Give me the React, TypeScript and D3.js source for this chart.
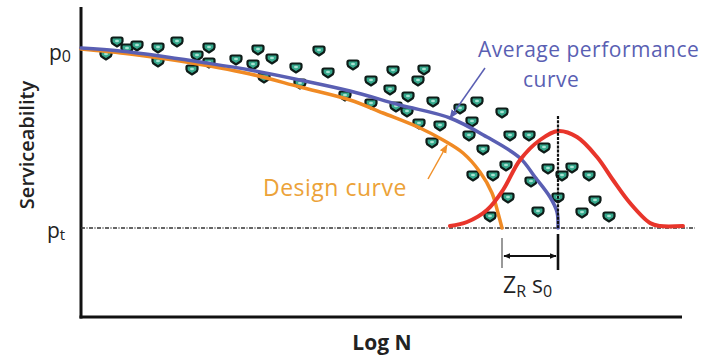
import React from "react";
import * as d3 from "d3";

// Data in chart units: x = Log N position (0..601), y = serviceability (0..310)
const P0 = 267;
const PT = 89;

const markerX = [25,36,46,56,77,77,96,111,116,128,128,155,172,177,191,183,215,219,238,247,264,272,290,290,309,312,315,326,327,337,343,352,379,396,421,391,338,359,388,351,429,448,402,463,425,467,481,491,508,392,412,450,427,477,514,457,409,501,528];
const markerY = [262,275,268,271,269,255,275,247,261,269,254,257,252,267,258,239,249,233,266,244,221,252,236,213,227,246,210,205,220,236,247,215,208,215,204,195,193,191,181,174,181,181,167,169,151,148,141,149,141,141,141,135,119,119,116,105,100,104,100];

const avgX = [0,39,79,119,169,219,269,319,369,406,439,454,469,476,477];
const avgY = [269,266,261,255,247,237,226,212,199,180,159,140,120,105,89];

const designX = [0,49,99,169,219,269,302,339,362,382,399,411,417,421];
const designY = [268,263,256,243,230,217,204,189,177,164,145,124,104,89];

const distX = [369,386,406,422,439,459,477,496,516,532,549,569,579,602];
const distY = [91,95,107,127,157,177,186,180,160,137,114,94,91,91];

const MEAN_X = 477;
const DESIGN_END_X = 421;

const W = 713;
const H = 355;

const x = d3.scaleLinear().domain([0, 601]).range([81, 682]);
const y = d3.scaleLinear().domain([0, 310]).range([317, 7]);

const FONT = "'Open Sans', 'Liberation Sans', Arial, sans-serif";

const markerPath =
  "M-5.5,-3 Q-5.5,-4.5 -4,-4.5 L4,-4.5 Q5.5,-4.5 5.5,-3 L5.5,-0.5 Q5.5,1 3,2.5 L0,4.5 L-3,2.5 Q-5.5,1 -5.5,-0.5 Z";

function pts(xs: number[], ys: number[]): [number, number][] {
  return xs.map((v, i) => [v, ys[i]]);
}

export default function App() {
  const line = d3
    .line<[number, number]>()
    .x((d) => x(d[0]))
    .y((d) => y(d[1]))
    .curve(d3.curveCatmullRom.alpha(0.5));

  const avgPath = line(pts(avgX, avgY)) || "";
  const designPath = line(pts(designX, designY)) || "";
  const distPath = line(pts(distX, distY)) || "";

  const xm = x(MEAN_X);
  const xd = x(DESIGN_END_X);
  const yPt = y(PT);
  const yP0 = y(P0);
  const arrowY = yPt + 28;

  return (
    <svg width={W} height={H} style={{ display: "block", position: "absolute", left: 0, top: 0, background: "#fff" }}>
      <defs>
        <marker id="ahBlack" viewBox="0 0 10 10" refX="9" refY="5" markerWidth="7" markerHeight="7" orient="auto-start-reverse" markerUnits="userSpaceOnUse">
          <path d="M0,1 L10,5 L0,9 Z" fill="#111" />
        </marker>
        <marker id="ahBlue" viewBox="0 0 10 10" refX="9" refY="5" markerWidth="9" markerHeight="9" orient="auto" markerUnits="userSpaceOnUse">
          <path d="M0,1 L10,5 L0,9 Z" fill="#5a5fb0" />
        </marker>
        <marker id="ahOrange" viewBox="0 0 10 10" refX="9" refY="5" markerWidth="9" markerHeight="9" orient="auto" markerUnits="userSpaceOnUse">
          <path d="M0,1 L10,5 L0,9 Z" fill="#f0902a" />
        </marker>
      </defs>

      {/* axes */}
      <line x1={x(0)} y1={y(310)} x2={x(0)} y2={y(0) + 1.5} stroke="#111" strokeWidth={3} />
      <line x1={x(0) - 1.5} y1={y(0)} x2={x(601)} y2={y(0)} stroke="#111" strokeWidth={3} />

      {/* pt threshold line */}
      <line x1={x(0)} y1={yPt} x2={x(614)} y2={yPt} stroke="#333" strokeWidth={1.6} strokeDasharray="4,1.5,1,1.5" />

      {/* markers */}
      {markerX.map((mx, i) => (
        <g key={i} transform={`translate(${x(mx)},${y(markerY[i])})`}>
          <path d={markerPath} fill="#35a88c" stroke="#0e1c18" strokeWidth={2.2} />
          <ellipse cx={0} cy={-1} rx={2} ry={1.2} fill="#a8e2d2" />
        </g>
      ))}

      {/* curves */}
      <path d={designPath} fill="none" stroke="#f08a24" strokeWidth={3.5} strokeLinecap="round" />
      <path d={avgPath} fill="none" stroke="#5a5fb3" strokeWidth={3.5} strokeLinecap="round" />
      <path d={distPath} fill="none" stroke="#e8352b" strokeWidth={4} strokeLinecap="round" strokeLinejoin="round" />

      {/* mean vertical line */}
      <line x1={xm} y1={y(201)} x2={xm} y2={yPt} stroke="#111" strokeWidth={2.2} strokeDasharray="3,1.2" />
      <line x1={xm} y1={yPt + 6} x2={xm} y2={yPt + 42} stroke="#111" strokeWidth={2.6} />

      {/* Z_R s_0 offset */}
      <line x1={xd} y1={yPt + 10} x2={xd} y2={yPt + 40} stroke="#999" strokeWidth={2} />
      <line x1={xd + 2} y1={arrowY} x2={xm - 2} y2={arrowY} stroke="#111" strokeWidth={1.8} markerStart="url(#ahBlack)" markerEnd="url(#ahBlack)" />
      <text x={503} y={yPt + 65} fontFamily={FONT} fontSize={23} fill="#222">
        Z<tspan fontSize={16} dy={4}>R</tspan>
        <tspan dy={-4} dx={6}>s</tspan>
        <tspan fontSize={16} dy={4}>0</tspan>
      </text>

      {/* annotation arrows */}
      <line x1={485} y1={68} x2={450} y2={118} stroke="#5a5fb3" strokeWidth={1.5} markerEnd="url(#ahBlue)" />
      <line x1={428} y1={179} x2={447} y2={145} stroke="#f0902a" strokeWidth={1.5} markerEnd="url(#ahOrange)" />

      {/* annotation text */}
      <text x={478} y={57} fontFamily={FONT} fontSize={21} letterSpacing={0.5} fill="#5a5fb3">Average performance</text>
      <text x={523} y={87} fontFamily={FONT} fontSize={21} letterSpacing={0.5} fill="#5a5fb3">curve</text>
      <text x={263} y={196} fontFamily={FONT} fontSize={23} letterSpacing={0.5} fill="#eca238">Design curve</text>

      {/* y labels */}
      <text x={49} y={yP0 + 10} fontFamily={FONT} fontSize={21} fill="#222">
        p<tspan fontSize={16} dy={2}>0</tspan>
      </text>
      <text x={47} y={yPt + 10} fontFamily={FONT} fontSize={21} fill="#222">
        p<tspan fontSize={15} dy={2}>t</tspan>
      </text>

      {/* axis titles */}
      <text transform={`translate(34,145) rotate(-90)`} textAnchor="middle" fontFamily={FONT} fontSize={20} fontWeight={600} fill="#222">
        Serviceability
      </text>
      <text x={382} y={350} textAnchor="middle" fontFamily={FONT} fontSize={21} fontWeight={700} fill="#222">
        Log N
      </text>
    </svg>
  );
}
